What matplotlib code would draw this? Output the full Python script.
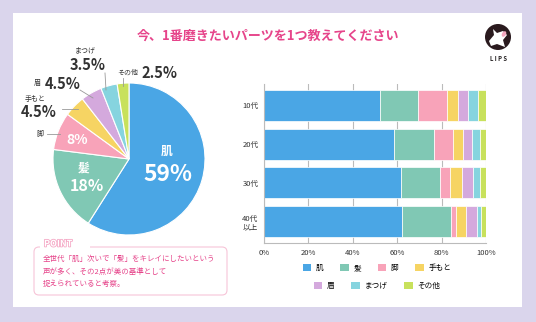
import matplotlib
matplotlib.use("Agg")
import matplotlib.pyplot as plt
import matplotlib.patheffects as pe
from matplotlib.patches import FancyBboxPatch, Circle, Ellipse, Rectangle, Patch, Polygon

plt.rcParams['font.family'] = ['Noto Sans CJK JP', 'DejaVu Sans']

W, H = 536, 322

# data
parts = ['肌', '髪', '脚', '手もと', '眉', 'まつげ', 'その他']
colors = ['#4aa6e5', '#80c8b4', '#f8a3b9', '#f6d463', '#d4a9dd', '#86d4df', '#c8e15c']
share_all = [59, 18, 8, 4.5, 4.5, 3.5, 2.5]

ages = ['10代', '20代', '30代', '40代\n以上']
hada = [52.3, 58.6, 61.7, 62.0]
kami = [17.0, 18.1, 17.6, 22.2]
ashi = [13.2, 8.3, 4.5, 2.4]
temoto = [5.0, 4.5, 5.2, 4.2]
mayu = [4.6, 4.0, 5.0, 5.0]
matsuge = [4.4, 3.8, 3.4, 1.9]
sonota = [3.5, 2.7, 2.6, 2.3]
by_age = [hada, kami, ashi, temoto, mayu, matsuge, sonota]

xticks = [0, 20, 40, 60, 80, 100]

pink = '#e6448a'
dark = '#333333'


def fx(x):
    return x / W


def fy(y):
    return 1 - y / H


fig = plt.figure(figsize=(W / 100, H / 100), dpi=100)
fig.patch.set_facecolor('#dad5ec')

# background layer: panel, point box, logo
bg = fig.add_axes([0, 0, 1, 1], zorder=0)
bg.set_xlim(0, W)
bg.set_ylim(H, 0)
bg.axis('off')
bg.add_patch(Rectangle((13, 13), 509, 294, fc='white', ec='none'))
bg.add_patch(FancyBboxPatch((34, 247), 193, 48, boxstyle='round,pad=0,rounding_size=5',
                            fc='white', ec='#f7c4d8', lw=0.8))
bg.add_patch(Rectangle((40, 240), 50, 9, fc='white', ec='none'))
bg.text(44, 244, 'POINT', fontsize=6.5, color='white', fontweight='bold', va='center',
        path_effects=[pe.withStroke(linewidth=1.2, foreground='#f5a9c6')])

# logo
bg.add_patch(Circle((498, 37), 13, fc='#2a1a1e', ec='none'))
bg.add_patch(Polygon([(489, 41), (494, 35), (493, 29), (497, 33), (503, 31),
                      (507, 35), (503, 40), (505, 47), (497, 44), (491, 46)],
                     closed=True, fc='white', ec='none'))
bg.add_patch(Ellipse((504, 34), 4, 6, angle=30, fc='#f4a6be', ec='none'))
bg.text(498, 58, 'L I P S', fontsize=4.3, color='#231f20', fontweight='bold', ha='center', va='center')

# title
bg.text(268, 36, '今、1番磨きたいパーツを1つ教えてください', fontsize=9.4, color=pink,
        fontweight='bold', ha='center', va='center')

# point text
point_lines = ['全世代「肌」次いで「髪」をキレイにしたいという',
               '声が多く、その2点が美の基準として',
               '捉えられていると考察。']
for i, line in enumerate(point_lines):
    bg.text(43, 259 + i * 12.5, line, fontsize=5.4, color=pink, va='center')

# pie chart
cx, cy, r = 129, 159, 76
pax = fig.add_axes([fx(cx - r), fy(cy + r), 2 * r / W, 2 * r / H], zorder=1)
pax.pie(share_all, colors=colors, startangle=90, counterclock=False,
        wedgeprops=dict(edgecolor='white', linewidth=0.8))
pax.set_xlim(-1, 1)
pax.set_ylim(-1, 1)
pax.set_aspect('equal')

# bar chart
bax = fig.add_axes([fx(264), fy(243), 222 / W, 159 / H], zorder=1)
left = [0] * len(ages)
for vals, c, name in zip(by_age, colors, parts):
    bax.barh(range(len(ages)), vals, left=left, height=0.8, color=c,
             edgecolor='white', linewidth=0.5, label=name)
    left = [a + b for a, b in zip(left, vals)]
bax.set_xlim(0, 100)
bax.set_ylim(len(ages) - 0.45, -0.55)
bax.set_xticks(xticks)
bax.set_xticklabels([f'{t}%' for t in xticks], fontsize=5.5, color=dark)
bax.set_yticks(range(len(ages)))
bax.set_yticklabels(ages, fontsize=5.5, color=dark, linespacing=1.1)
bax.tick_params(length=0, pad=4)
bax.grid(axis='x', color='#bbbbbb', lw=0.8)
bax.set_axisbelow(True)
for s in ['top', 'right']:
    bax.spines[s].set_visible(False)
for s in ['left', 'bottom']:
    bax.spines[s].set_color('#bbbbbb')
    bax.spines[s].set_linewidth(0.8)

handles = [Patch(fc=c, ec='none') for c in colors]
leg1 = fig.legend(handles[:4], parts[:4], loc='center', bbox_to_anchor=(fx(377), fy(268)),
                  ncol=4, frameon=False, fontsize=5.5, handlelength=1.1, handleheight=1.1,
                  columnspacing=2.2, handletextpad=0.6)
leg2 = fig.legend(handles[4:], parts[4:], loc='center', bbox_to_anchor=(fx(377), fy(286)),
                  ncol=3, frameon=False, fontsize=5.5, handlelength=1.1, handleheight=1.1,
                  columnspacing=2.2, handletextpad=0.6)

# pie labels overlay
ov = fig.add_axes([0, 0, 1, 1], zorder=2)
ov.set_xlim(0, W)
ov.set_ylim(H, 0)
ov.axis('off')
ov.patch.set_alpha(0)

ov.text(167, 151, parts[0], fontsize=8.5, color='white', fontweight='bold', ha='center', va='center')
ov.text(168, 174, f'{share_all[0]:g}%', fontsize=16.5, color='white', fontweight='bold', ha='center', va='center')
ov.text(84, 168, parts[1], fontsize=8.5, color='white', fontweight='bold', ha='center', va='center')
ov.text(87, 186, f'{share_all[1]:g}%', fontsize=11.5, color='white', fontweight='bold', ha='center', va='center')
ov.text(77, 140, f'{share_all[2]:g}%', fontsize=10, color='white', fontweight='bold', ha='center', va='center')

lc = '#999999'
big = 10.5
# 脚
ov.text(40, 134, parts[2], fontsize=5, color=dark, ha='center', va='center')
ov.plot([47, 60], [134, 134], color=lc, lw=0.6)
# 手もと
ov.text(35, 99, parts[3], fontsize=5, color=dark, ha='center', va='center')
ov.text(39, 112, f'{share_all[3]:g}%', fontsize=big, color=dark, fontweight='bold', ha='center', va='center')
ov.plot([62, 78], [109, 109], color=lc, lw=0.6)
# 眉
ov.text(37, 83, parts[4], fontsize=5, color=dark, ha='center', va='center')
ov.text(63, 84, f'{share_all[4]:g}%', fontsize=big, color=dark, fontweight='bold', ha='center', va='center')
ov.plot([80, 93], [90, 98], color=lc, lw=0.6)
# まつげ
ov.text(85, 50, parts[5], fontsize=5, color=dark, ha='center', va='center')
ov.text(88, 65, f'{share_all[5]:g}%', fontsize=big, color=dark, fontweight='bold', ha='center', va='center')
ov.plot([105, 106], [73, 90], color=lc, lw=0.6)
# その他
ov.text(128, 73, parts[6], fontsize=5, color=dark, ha='center', va='center')
ov.text(159, 73, f'{share_all[6]:g}%', fontsize=big, color=dark, fontweight='bold', ha='center', va='center')
ov.plot([123, 123], [78, 86], color=lc, lw=0.6)

fig.savefig('out.png', dpi=100, facecolor=fig.get_facecolor())
